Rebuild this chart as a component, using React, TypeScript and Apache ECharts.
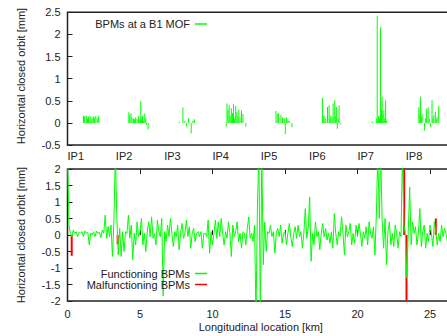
import React, { useEffect, useRef } from "react";
import * as echarts from "echarts";

// ---- Data ----
const ringLengthKm = 26.66;
const ipLabels = ["IP1", "IP2", "IP3", "IP4", "IP5", "IP6", "IP7", "IP8"];
const xTickLabels = [0, 5, 10, 15, 20, 25];

// Top panel: BPMs at a B1 MOF (impulses)
const mofKm = [
  1.1, 1.18, 1.3, 1.38, 1.45, 1.55, 1.62, 1.7, 1.78, 1.85, 1.95, 2.05, 2.15,
  4.23, 4.3, 4.38, 4.45, 4.55, 4.62, 4.7, 4.8, 4.9, 5.0, 5.05, 5.12, 5.17, 5.25, 5.33, 5.4, 5.44, 5.56,
  7.73, 7.96, 8.1, 8.2, 8.35, 8.53, 8.65, 8.76,
  10.95, 11.0, 11.07, 11.15, 11.22, 11.3, 11.38, 11.45, 11.52, 11.6, 11.68, 11.75, 11.82, 11.9, 12.0, 12.1, 12.3,
  14.38, 14.5, 14.56, 14.72, 14.83, 14.95, 15.02, 15.1, 15.2, 15.29, 15.48,
  17.58, 17.64, 17.7, 17.81, 17.93, 18.04, 18.1, 18.16, 18.25, 18.32, 18.43, 18.5, 18.54, 18.61, 18.67, 18.73, 18.85,
  21.02, 21.3, 21.36, 21.45, 21.52, 21.59, 21.65, 21.7, 21.76, 21.82, 21.88, 21.94, 22.0,
  24.23, 24.3, 24.34, 24.4, 24.45, 24.62, 24.7, 24.75, 24.87, 24.95, 25.03, 25.14, 25.2, 25.26, 25.37, 25.43, 25.49, 25.6,
];
const mofOrbit = [
  0.16, 0.15, 0.16, 0.1, 0.14, 0.16, 0.12, 0.1, 0.15, 0.12, 0.16, 0.11, 0.16,
  0.24, 0.18, 0.22, 0.12, 0.1, 0.08, 0.12, 0.1, 0.15, 0.08, 0.49, 0.12, 0.15, 0.05, 0.22, 0.1, -0.05, -0.15,
  0.02, 0.35, 0.05, -0.08, 0.1, -0.24, 0.05, 0.08,
  -0.08, 0.44, 0.3, 0.4, 0.15, 0.33, 0.22, 0.42, 0.1, 0.38, 0.25, 0.15, 0.3, 0.12, 0.28, 0.2, -0.08,
  0.27, 0.2, 0.22, 0.18, 0.12, 0.1, -0.25, 0.12, 0.08, 0.05, -0.1,
  0.57, 0.12, 0.17, 0.1, 0.36, 0.4, 0.1, 0.17, 0.12, 0.44, 0.51, 0.15, 0.36, -0.13, 0.1, 0.4, -0.03,
  0.03, 0.1, 2.42, 0.15, 0.1, 2.16, 0.3, 0.59, 0.2, 0.29, 0.1, 0.51, 0.05,
  0.36, 0.2, 0.59, 0.15, 0.21, -0.17, 0.1, 0.32, 0.36, 0.1, -0.09, 0.51, 0.1, 0.17, 0.25, 0.08, 0.14, 0.38,
];

// Bottom panel: functioning BPMs, one reading every 0.1 km from 0 km
const bpmStepKm = 0.1;
const functioningOrbit = [
  2.5, 0.3, 0.05, -0.05, 0.15, 0.05, 0.1, -0.05, 0.08, 0.05,
  0.1, -0.05, 0.12, 0.05, 0.08, -0.3, 0.06, 0.0, 0.1, -0.05,
  0.12, 0.05, 0.08, -0.08, 0.15, 0.05, 0.6, -0.1, 0.25, -0.05,
  0.3, -0.65, 0.4, 2.5, 0.55, -0.6, 0.2, -0.65, 0.1, -0.5,
  0.1, 0.05, 0.6, -0.1, 0.3, -0.75, 0.05, -0.3, 0.4, -0.05,
  0.1, 0.5, -0.3, 0.05, -0.5, 0.1, 0.4, -0.05, 0.55, -0.1,
  0.05, -0.3, 0.45, 0.1, -0.05, 0.5, -1.85, 0.1, -0.2, 0.3,
  -0.05, 0.5, 0.05, -0.35, 0.1, -0.05, 0.3, -0.45, 0.05, 0.35,
  -0.1, 0.05, 0.45, -0.05, 0.25, -0.4, 0.05, 0.2, -0.2, 0.05,
  0.1, -0.05, 0.1, -0.4, 0.05, 0.05, -0.05, 0.45, -0.55, 0.1,
  -0.3, 0.05, 0.45, -0.1, 0.4, -0.05, 0.5, 0.05, -0.3, 0.1,
  -0.1, 0.4, 0.05, -0.65, 0.3, -0.05, 0.1, 0.4, -0.2, 0.05,
  -0.4, 0.1, 0.05, -0.3, 0.2, 0.55, -0.1, 0.05, -0.2, 0.3,
  -2.5, 0.9, 2.5, -2.5, 2.5, -0.9, 0.4, -0.5, 0.1, 0.05,
  0.3, -0.05, 0.1, -0.55, 0.05, 0.2, -0.05, 0.3, -0.25, 0.05,
  0.1, -0.3, 0.05, 0.35, -0.05, -0.35, 0.05, 0.25, -0.1, 0.3,
  -0.05, 0.1, -0.4, 0.05, 0.8, -0.1, 0.2, 1.15, -0.8, 0.05,
  -0.3, 0.4, -0.05, 0.1, -0.45, 0.05, 0.35, -0.05, 0.2, -0.15,
  0.05, -0.25, 0.1, -0.4, 0.65, 0.05, -0.3, 0.1, -0.05, 0.55,
  0.05, -0.6, 0.3, -0.05, 0.1, 0.35, -0.3, 0.05, -0.25, 0.3,
  -0.05, 0.35, 0.05, -0.35, 0.1, -0.1, 0.25, -0.3, 0.4, 0.05,
  -0.1, 0.25, -0.6, 0.6, 2.5, 0.5, 2.5, 0.45, -0.4, 0.5,
  -0.9, 0.1, 0.4, -0.3, 0.05, -0.35, 0.3, 0.05, -0.4, 0.1,
  -0.05, 2.5, 0.3, 0.05, -1.3, 0.1, 1.45, -0.3, 0.4, 0.05,
  0.25, -0.3, 0.05, 0.8, -0.35, 0.1, 0.3, -0.4, 0.05, -0.2,
  0.3, 0.05, -0.35, 0.4, 0.1, -0.3, 0.05, -0.2, 0.3, -0.05,
  0.2, 0.05, -0.2, 0.1, -0.15, 0.05, 0.1,
];

// Bottom panel: malfunctioning BPMs
const malfunctioningKm = [0.29, 3.46, 23.22, 23.38, 25.4];
const malfunctioningOrbit = [-0.63, -0.28, 2.5, -2.5, 0.5];

const FONT = '"Liberation Sans", Arial, Helvetica, sans-serif';
const TEXT = "#222";
const GREEN = "#00ff00";
const RED = "#ff0000";

export default function App() {
  const ref = useRef<HTMLDivElement>(null);

  useEffect(() => {
    if (!ref.current) return;
    const chart = echarts.init(ref.current, undefined, { renderer: "svg" });
    const chartWidth = 470;
    const gridLeft = 67.5;
    const gridWidth = ringLengthKm * 14.5;
    const ipSpacing = ringLengthKm / 8;

    const labelStyle = { fontSize: 11, color: TEXT, fontFamily: FONT };
    const tickStyle = { show: true, inside: true, length: 5, lineStyle: { color: TEXT, width: 1 } };

    const legendBase = {
      orient: "horizontal" as const,
      align: "right" as const,
      icon: "rect",
      itemWidth: 12,
      itemHeight: 1.5,
      padding: 0,
      selectedMode: false,
      right: chartWidth - 207,
      textStyle: { fontSize: 11, color: TEXT, fontFamily: FONT },
    };

    chart.setOption({
      animation: false,
      backgroundColor: "#ffffff",
      grid: [
        { left: gridLeft, top: 12.3, width: gridWidth, height: 132.7, show: true, borderColor: TEXT, borderWidth: 1.5, backgroundColor: "transparent" },
        { left: gridLeft, top: 169, width: gridWidth, height: 132, show: true, borderColor: TEXT, borderWidth: 1.5, backgroundColor: "transparent" },
      ],
      legend: [
        { ...legendBase, data: ["BPMs at a B1 MOF"], top: 18.5 },
        { ...legendBase, data: ["Functioning BPMs"], top: 268 },
        { ...legendBase, data: ["Malfunctioning BPMs"], top: 279 },
      ],
      xAxis: [
        {
          gridIndex: 0,
          type: "value",
          position: "bottom",
          min: 0,
          max: ringLengthKm,
          interval: ipSpacing,
          axisLine: { show: false },
          axisTick: { show: false },
          splitLine: { show: false },
          axisLabel: {
            ...labelStyle,
            align: "left",
            margin: 5,
            showMaxLabel: false,
            formatter: (v: number) => ipLabels[Math.round(v / ipSpacing)] ?? "",
          },
        },
        {
          gridIndex: 1,
          type: "value",
          position: "bottom",
          min: 0,
          max: ringLengthKm,
          interval: 5,
          axisLine: { show: false },
          axisTick: tickStyle,
          splitLine: { show: false },
          axisLabel: {
            ...labelStyle,
            margin: 7,
            showMaxLabel: false,
            formatter: (v: number) => (xTickLabels.includes(v) ? String(v) : ""),
          },
          name: "Longitudinal location [km]",
          nameLocation: "middle",
          nameGap: 20,
          nameTextStyle: labelStyle,
        },
        {
          gridIndex: 1,
          type: "value",
          position: "top",
          min: 0,
          max: ringLengthKm,
          interval: 5,
          axisLine: { show: false },
          axisTick: tickStyle,
          splitLine: { show: false },
          axisLabel: { show: false },
        },
      ],
      yAxis: [
        {
          gridIndex: 0,
          type: "value",
          min: -0.5,
          max: 2.5,
          interval: 0.5,
          axisLine: { show: false },
          axisTick: tickStyle,
          splitLine: { show: false },
          axisLabel: { ...labelStyle, margin: 7 },
        },
        {
          gridIndex: 1,
          type: "value",
          min: -2,
          max: 2,
          interval: 0.5,
          axisLine: { show: false },
          axisTick: tickStyle,
          splitLine: { show: false },
          axisLabel: { ...labelStyle, margin: 7 },
        },
      ],
      graphic: [
        {
          type: "text",
          x: 20.7,
          y: 76,
          rotation: Math.PI / 2,
          style: {
            text: "Horizontal closed orbit [mm]",
            fill: TEXT,
            font: `11px ${FONT}`,
            align: "center",
            verticalAlign: "middle",
            textAlign: "center",
            textVerticalAlign: "middle",
          },
        },
        {
          type: "text",
          x: 20.7,
          y: 235,
          rotation: Math.PI / 2,
          style: {
            text: "Horizontal closed orbit [mm]",
            fill: TEXT,
            font: `11px ${FONT}`,
            align: "center",
            verticalAlign: "middle",
            textAlign: "center",
            textVerticalAlign: "middle",
          },
        },
      ],
      series: [
        {
          name: "BPMs at a B1 MOF",
          type: "bar",
          xAxisIndex: 0,
          yAxisIndex: 0,
          barWidth: 1,
          clip: true,
          itemStyle: { color: GREEN },
          data: mofKm.map((k, i) => [k, mofOrbit[i]]),
        },
        {
          name: "Functioning BPMs",
          type: "line",
          xAxisIndex: 1,
          yAxisIndex: 1,
          symbol: "none",
          showSymbol: false,
          clip: true,
          lineStyle: { color: GREEN, width: 1 },
          itemStyle: { color: GREEN },
          data: functioningOrbit.map((v, i) => [i * bpmStepKm, v]),
        },
        {
          name: "Malfunctioning BPMs",
          type: "bar",
          xAxisIndex: 1,
          yAxisIndex: 1,
          barWidth: 2,
          clip: true,
          itemStyle: { color: RED },
          data: malfunctioningKm.map((k, i) => [k, malfunctioningOrbit[i]]),
        },
      ],
    });

    return () => chart.dispose();
  }, []);

  return (
    <div style={{ position: "absolute", left: 0, top: 0, width: 447, height: 336, overflow: "hidden", background: "#fff" }}>
      <div ref={ref} style={{ width: 470, height: 336 }} />
    </div>
  );
}
